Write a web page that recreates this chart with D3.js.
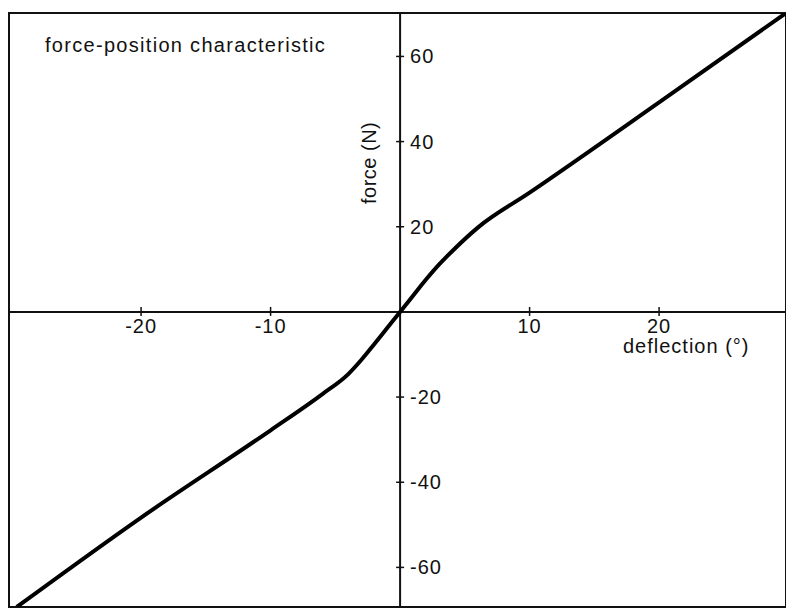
<!DOCTYPE html>
<html>
<head>
<meta charset="utf-8">
<script src="https://cdn.jsdelivr.net/npm/d3@7"></script>
<style>
  html, body { margin: 0; padding: 0; background: #fff; }
  svg { display: block; }
  text { font-family: "Liberation Sans", Arial, sans-serif; fill: #111; }
</style>
</head>
<body>
<script>
// Force-position characteristic of the stick: force (N) versus deflection (deg)
const deflection = [-29.6, -20, -10, -6, -4, -3, -2, -1, 0, 1, 2, 3, 4, 6, 10, 20, 29.8];
const force      = [-69.3, -48.3, -27.8, -19.3, -14.6, -11.3, -7.6, -3.8, 0, 3.8, 7.6, 11.1, 14.2, 19.8, 28, 49.2, 70.2];

const xTicks = [-20, -10, 10, 20];
const yTicks = [-60, -40, -20, 20, 40, 60];

const title = "force-position characteristic";
const xLabel = "deflection (°)";
const yLabel = "force (N)";

const W = 786, H = 611;
const frame = { left: 9, top: 13, right: 786, bottom: 607 };

const x = d3.scaleLinear().domain([-30.2, 29.8]).range([frame.left, frame.right]);
const y = d3.scaleLinear().domain([-69.3, 70.2]).range([frame.bottom, frame.top]);

const svg = d3.select("body").append("svg").attr("width", W).attr("height", H);

svg.append("clipPath").attr("id", "plot-clip")
  .append("rect")
  .attr("x", frame.left).attr("y", frame.top)
  .attr("width", frame.right - frame.left).attr("height", frame.bottom - frame.top);

// outer frame
svg.append("rect")
  .attr("x", frame.left).attr("y", frame.top)
  .attr("width", frame.right - frame.left).attr("height", frame.bottom - frame.top)
  .attr("fill", "none").attr("stroke", "#111").attr("stroke-width", 2);

// axes crossing at the origin
const x0 = x(0), y0 = y(0);
svg.append("line").attr("x1", frame.left).attr("x2", frame.right)
  .attr("y1", y0).attr("y2", y0).attr("stroke", "#111").attr("stroke-width", 2);
svg.append("line").attr("x1", x0).attr("x2", x0)
  .attr("y1", frame.top).attr("y2", frame.bottom).attr("stroke", "#111").attr("stroke-width", 2);

// x ticks and labels
const xg = svg.append("g");
xg.selectAll("line").data(xTicks).join("line")
  .attr("x1", d => x(d)).attr("x2", d => x(d))
  .attr("y1", y0 - 5).attr("y2", y0 + 4)
  .attr("stroke", "#111").attr("stroke-width", 1.5);
xg.selectAll("text").data(xTicks).join("text")
  .attr("x", d => x(d)).attr("y", y0 + 21)
  .attr("text-anchor", "middle")
  .attr("font-size", 20).attr("letter-spacing", 1)
  .text(d => d);

// y ticks and labels
const yg = svg.append("g");
yg.selectAll("line").data(yTicks).join("line")
  .attr("x1", x0 - 4).attr("x2", x0 + 4)
  .attr("y1", d => y(d)).attr("y2", d => y(d))
  .attr("stroke", "#111").attr("stroke-width", 1.5);
yg.selectAll("text").data(yTicks).join("text")
  .attr("x", x0 + 10).attr("y", d => y(d) + 7)
  .attr("font-size", 20).attr("letter-spacing", 1)
  .text(d => d);

// axis titles and chart title
svg.append("text").attr("x", 623).attr("y", 353)
  .attr("font-size", 20).attr("letter-spacing", 1).text(xLabel);
svg.append("text")
  .attr("transform", `translate(${x0 - 24},${y(35)}) rotate(-90)`)
  .attr("text-anchor", "middle")
  .attr("font-size", 20).attr("letter-spacing", 0.5).text(yLabel);
svg.append("text").attr("x", 45).attr("y", 52)
  .attr("font-size", 20).attr("letter-spacing", 1.3).text(title);

// characteristic curve
const pts = deflection.map((d, i) => [d, force[i]]);
svg.append("path")
  .datum(pts)
  .attr("clip-path", "url(#plot-clip)")
  .attr("fill", "none").attr("stroke", "#000").attr("stroke-width", 4)
  .attr("stroke-linejoin", "round")
  .attr("d", d3.line().x(d => x(d[0])).y(d => y(d[1])).curve(d3.curveMonotoneX));
</script>
</body>
</html>
